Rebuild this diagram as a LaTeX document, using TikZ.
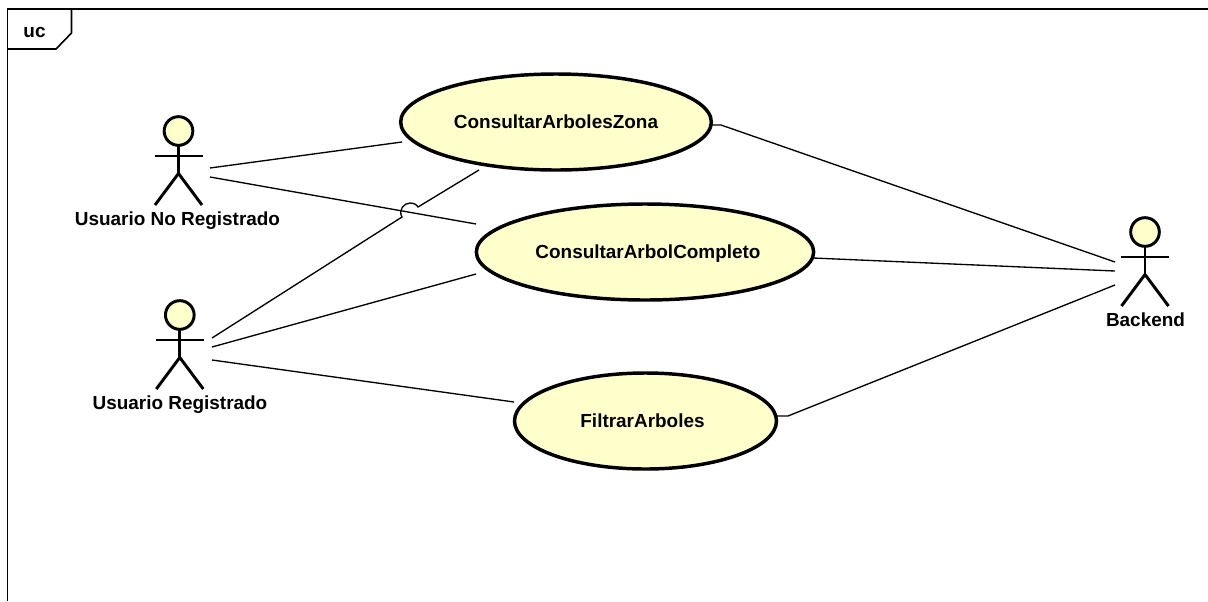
\documentclass[tikz,border=0pt]{standalone}
\usepackage{fontspec}
\setmainfont{Liberation Sans}
\usetikzlibrary{shapes.geometric,calc}
\definecolor{ucfill}{RGB}{255,255,204}
\tikzset{
  x=0.75pt,y=-0.75pt,
  usecase/.style={ellipse,draw=black,line width=2.6pt,fill=ucfill,inner sep=0pt,outer sep=0pt,text height=10.2pt,text depth=0pt,font=\bfseries\fontsize{14.2}{17}\selectfont},
  actorlabel/.style={font=\bfseries\fontsize{14.2}{17}\selectfont,inner sep=0pt,text height=10.2pt,text depth=0pt},
  framelabel/.style={font=\bfseries\fontsize{14.2}{17}\selectfont,inner sep=0pt,text height=7.4pt,text depth=0pt},
  link/.style={line width=1pt,draw=black},
  actorline/.style={line width=2.2pt,draw=black},
  framer/.style={line width=1.2pt,draw=black},
  actorhead/.style={circle,draw=black,line width=2.2pt,fill=ucfill,inner sep=0pt,outer sep=0pt,minimum size=21.5pt}
}
\newcommand{\drawactor}[2]{%
  \node[actorhead] (#1head) at (#2) {};
  \draw[actorline] (#1head.south) -- ($(#2)+(0,42.5)$) coordinate (#1hip);
  \draw[actorline] ($(#2)+(-24,25)$) -- ($(#2)+(24,25)$);
  \draw[actorline] (#1hip) -- ++(-23.5,31.5);
  \draw[actorline] (#1hip) -- ++(23.5,31.5);
}
\begin{document}
\begin{tikzpicture}
\useasboundingbox (0,0) rectangle (1208,601);
% frame
\coordinate (fbl) at (7.5,601);
\coordinate (ftl) at (7.5,9);
\coordinate (ftr) at (1208,9);
\draw[framer] (fbl) -- (ftl) -- (ftr);
\coordinate (t1) at (7.5,49);
\coordinate (t2) at (56,49);
\coordinate (t3) at (71.5,33);
\coordinate (t4) at (71.5,9);
\draw[framer] (t1) -- (t2) -- (t3) -- (t4);
\node[framelabel] (uc) at (34.5,33) {uc};
% use cases
\node[usecase,minimum width=233pt,minimum height=72pt] (zona) at (556,122) {ConsultarArbolesZona};
\node[usecase,minimum width=253pt,minimum height=72pt] (completo) at (645,252) {\hspace{4.5pt}ConsultarArbolCompleto};
\node[usecase,minimum width=196.5pt,minimum height=72pt] (filtrar) at (645.5,421) {\hspace{-4.5pt}FiltrarArboles};
% actors
\drawactor{a}{178.5,131}
\drawactor{b}{179.8,315}
\drawactor{c}{1145,232}
\node[actorlabel] (la) at (177.5,218.3) {Usuario No Registrado};
\node[actorlabel] (lb) at (180,402.5) {Usuario Registrado};
\node[actorlabel] (lc) at (1145.5,319.3) {Backend};
% link ends
\coordinate (a1) at (210,168);
\coordinate (a2) at (210,177);
\coordinate (b1) at (212,338);
\coordinate (b2) at (212,347);
\coordinate (b3) at (212,360);
\coordinate (c1) at (1115,262);
\coordinate (c2) at (1115,271);
\coordinate (c3) at (1115,285);
\coordinate (z1) at (402,142);
\coordinate (z2) at (479,170);
\coordinate (z3) at (710,125);
\coordinate (z4) at (721,125);
\coordinate (k1) at (476,224);
\coordinate (k2) at (476,274);
\coordinate (k3) at (813,258);
\coordinate (f1) at (514,402);
\coordinate (f2) at (777,416);
\coordinate (f3) at (788,416);
\draw[link] (a1) -- (z1);
\draw[link] (a2) -- (k1);
\coordinate (j1) at (402,217);
\coordinate (j2) at (418,207);
\draw[link] (b1) -- (j1) .. controls (398,210) and (404,203) .. (410,203) .. controls (414,203) and (417,205) .. (j2) -- (z2);
\draw[link] (b2) -- (k2);
\draw[link] (b3) -- (f1);
\draw[link] (z3) -- (z4) -- (c1);
\draw[link] (k3) -- (c2);
\draw[link] (f2) -- (f3) -- (c3);
\end{tikzpicture}
\end{document}
